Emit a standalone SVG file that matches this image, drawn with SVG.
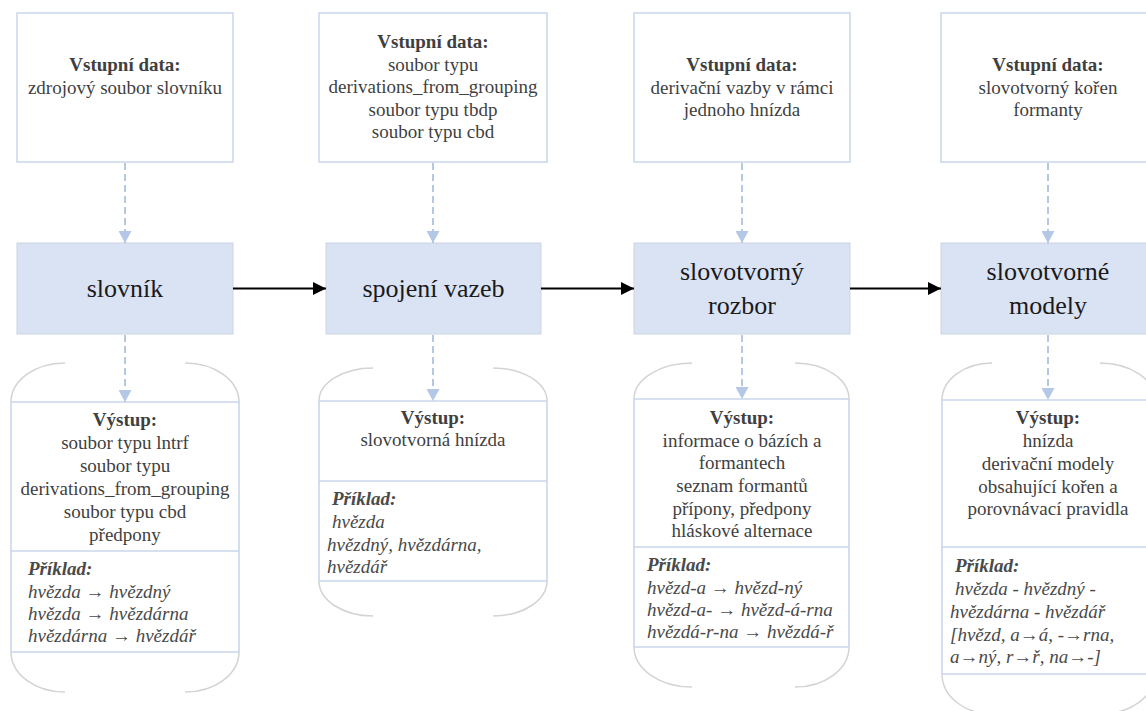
<svg xmlns="http://www.w3.org/2000/svg" width="1146" height="711" viewBox="0 0 1146 711">
<style>
.inbox{fill:#ffffff;stroke:#c9d6ea;stroke-width:1.5}
.proc{fill:#dae3f3;stroke:#cbd4e3;stroke-width:1}
.ol{stroke:#c9d6ea;stroke-width:1.6;fill:none}
.arc{stroke:#d3d3d3;stroke-width:1.5;fill:none}
.t{font-family:"Liberation Serif",Tinos,"Times New Roman",Times,"Nimbus Roman","Nimbus Roman No9 L",FreeSerif,"Noto Serif","DejaVu Serif",serif;font-size:19px;fill:#3f3f3f}
.c{text-anchor:middle}
.b{font-weight:bold}
.ex{font-style:italic;fill:#4a4a4a}
.big{font-size:26px;fill:#1a1a1a}
.dash{stroke:#b4c7e7;stroke-width:2;stroke-dasharray:7 4;fill:none}
.solid{stroke:#000;stroke-width:2;fill:none}
</style>
<defs>
<marker id="ah" markerUnits="userSpaceOnUse" markerWidth="13" markerHeight="13" refX="12" refY="6.5" orient="auto">
<path d="M0,0 L12,6.5 L0,13 z" fill="#b4c7e7"/>
</marker>
<marker id="bh" markerUnits="userSpaceOnUse" markerWidth="14" markerHeight="13" refX="13" refY="6.5" orient="auto">
<path d="M0,0 L13,6.5 L0,13 z" fill="#000"/>
</marker>
</defs>
<rect width="1146" height="711" fill="#ffffff"/>

<!-- input boxes -->
<g id="in1">
<rect class="inbox" x="17" y="13" width="216" height="149"/>
<text class="t c b" x="125" y="71">Vstupní data:</text>
<text class="t c" x="125" y="93.5">zdrojový soubor slovníku</text>
</g>
<g id="in2">
<rect class="inbox" x="319" y="13" width="228" height="149"/>
<text class="t c b" x="433" y="48">Vstupní data:</text>
<text class="t c" x="433" y="70.5">soubor typu</text>
<text class="t c" x="433" y="93">derivations_from_grouping</text>
<text class="t c" x="433" y="115.5">soubor typu tbdp</text>
<text class="t c" x="433" y="138">soubor typu cbd</text>
</g>
<g id="in3">
<rect class="inbox" x="634" y="13" width="216" height="149"/>
<text class="t c b" x="742" y="71">Vstupní data:</text>
<text class="t c" x="742" y="93.5">derivační vazby v rámci</text>
<text class="t c" x="742" y="116">jednoho hnízda</text>
</g>
<g id="in4">
<rect class="inbox" x="941" y="13" width="214" height="149"/>
<text class="t c b" x="1048" y="71">Vstupní data:</text>
<text class="t c" x="1048" y="93.5">slovotvorný kořen</text>
<text class="t c" x="1048" y="116">formanty</text>
</g>

<!-- process boxes -->
<g id="p1">
<rect class="proc" x="17" y="243" width="216" height="91"/>
<text class="t c big" x="125" y="297">slovník</text>
</g>
<g id="p2">
<rect class="proc" x="326" y="243" width="215" height="91"/>
<text class="t c big" x="433.5" y="297">spojení vazeb</text>
</g>
<g id="p3">
<rect class="proc" x="634" y="243" width="216" height="91"/>
<text class="t c big" x="742" y="280">slovotvorný</text>
<text class="t c big" x="742" y="314">rozbor</text>
</g>
<g id="p4">
<rect class="proc" x="941" y="243" width="214" height="91"/>
<text class="t c big" x="1048" y="280">slovotvorné</text>
<text class="t c big" x="1048" y="314">modely</text>
</g>

<!-- output shapes -->
<g id="out1">
<path class="arc" d="M11,402 A54,39 0 0 1 65,363 M185,363 A54,39 0 0 1 239,402 M11,652 A54,40 0 0 0 65,692 M185,692 A54,40 0 0 0 239,652"/>
<path class="ol" d="M11,402 H239 M11,551 H239 M11,652 H239 M11,402 V652 M239,402 V652"/>
<text class="t c b" x="125" y="426">Výstup:</text>
<text class="t c" x="125" y="449">soubor typu lntrf</text>
<text class="t c" x="125" y="472">soubor typu</text>
<text class="t c" x="125" y="495">derivations_from_grouping</text>
<text class="t c" x="125" y="518">soubor typu cbd</text>
<text class="t c" x="125" y="541">předpony</text>
<text class="t b ex" x="28" y="575">Příklad:</text>
<text class="t ex" x="28" y="598">hvězda → hvězdný</text>
<text class="t ex" x="28" y="620">hvězda → hvězdárna</text>
<text class="t ex" x="28" y="642">hvězdárna → hvězdář</text>
</g>
<g id="out2">
<path class="arc" d="M319,401 A54,33 0 0 1 373,368 M493,368 A54,33 0 0 1 547,401 M319,581 A54,35 0 0 0 373,616 M493,616 A54,35 0 0 0 547,581"/>
<path class="ol" d="M319,401 H547 M319,481 H547 M319,581 H547 M319,401 V581 M547,401 V581"/>
<text class="t c b" x="433" y="424">Výstup:</text>
<text class="t c" x="433" y="446">slovotvorná hnízda</text>
<text class="t b ex" x="332" y="505">Příklad:</text>
<text class="t ex" x="332" y="528">hvězda</text>
<text class="t ex" x="327" y="551">hvězdný, hvězdárna,</text>
<text class="t ex" x="327" y="573">hvězdář</text>
</g>
<g id="out3">
<path class="arc" d="M634,399 A58,36 0 0 1 692,363 M795,363 A54,36 0 0 1 849,399 M634,647 A58,40 0 0 0 692,687 M795,687 A54,40 0 0 0 849,647"/>
<path class="ol" d="M634,399 H849 M634,547 H849 M634,647 H849 M634,399 V647 M849,399 V647"/>
<text class="t c b" x="742" y="424">Výstup:</text>
<text class="t c" x="742" y="447">informace o bázích a</text>
<text class="t c" x="742" y="469">formantech</text>
<text class="t c" x="742" y="492">seznam formantů</text>
<text class="t c" x="742" y="515">přípony, předpony</text>
<text class="t c" x="742" y="537">hláskové alternace</text>
<text class="t b ex" x="647" y="571">Příklad:</text>
<text class="t ex" x="647" y="594">hvězd-a → hvězd-ný</text>
<text class="t ex" x="647" y="616">hvězd-a- → hvězd-á-rna</text>
<text class="t ex" x="647" y="638">hvězdá-r-na → hvězdá-ř</text>
</g>
<g id="out4">
<path class="arc" d="M942,400 A50,37 0 0 1 992,363 M1100,363 A55,37 0 0 1 1155,400 M942,674 A50,40 0 0 0 992,714 M1100,714 A55,40 0 0 0 1155,674"/>
<path class="ol" d="M942,400 H1155 M942,547 H1155 M942,674 H1155 M942,400 V674 M1155,400 V674"/>
<text class="t c b" x="1048" y="424">Výstup:</text>
<text class="t c" x="1048" y="447">hnízda</text>
<text class="t c" x="1048" y="470">derivační modely</text>
<text class="t c" x="1048" y="493">obsahující kořen a</text>
<text class="t c" x="1048" y="515">porovnávací pravidla</text>
<text class="t b ex" x="955" y="572">Příklad:</text>
<text class="t ex" x="955" y="595">hvězda - hvězdný -</text>
<text class="t ex" x="950" y="618">hvězdárna - hvězdář</text>
<text class="t ex" x="950" y="641">[hvězd, a→á, -→rna,</text>
<text class="t ex" x="950" y="663">a→ný, r→ř, na→-]</text>
</g>

<!-- connectors -->
<g id="connectors">
<line class="dash" x1="125" y1="163" x2="125" y2="243" marker-end="url(#ah)"/>
<line class="dash" x1="433" y1="163" x2="433" y2="243" marker-end="url(#ah)"/>
<line class="dash" x1="742" y1="163" x2="742" y2="243" marker-end="url(#ah)"/>
<line class="dash" x1="1048" y1="163" x2="1048" y2="243" marker-end="url(#ah)"/>
<line class="dash" x1="125" y1="335" x2="125" y2="402" marker-end="url(#ah)"/>
<line class="dash" x1="433" y1="335" x2="433" y2="401" marker-end="url(#ah)"/>
<line class="dash" x1="742" y1="335" x2="742" y2="399" marker-end="url(#ah)"/>
<line class="dash" x1="1048" y1="335" x2="1048" y2="400" marker-end="url(#ah)"/>
<line class="solid" x1="233" y1="288.5" x2="326" y2="288.5" marker-end="url(#bh)"/>
<line class="solid" x1="541" y1="288.5" x2="634" y2="288.5" marker-end="url(#bh)"/>
<line class="solid" x1="850" y1="288.5" x2="941" y2="288.5" marker-end="url(#bh)"/>
</g>
</svg>
